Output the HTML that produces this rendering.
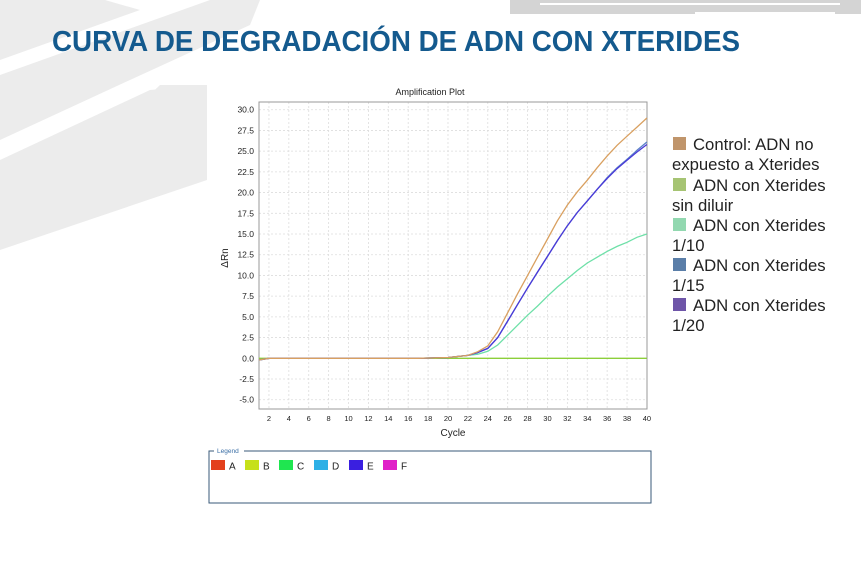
<!DOCTYPE html>
<html><head><meta charset="utf-8"><style>
body{margin:0;width:861px;height:557px;overflow:hidden;background:#fff;font-family:"Liberation Sans",sans-serif}
</style></head><body>
<svg id="s" width="861" height="557" xmlns="http://www.w3.org/2000/svg" font-family="Liberation Sans, sans-serif">
<polygon points="0,0 105,0 140,10 0,60" fill="#ececec"/>
<polygon points="0,75 210,0 260,0 250,25 130,80 0,140" fill="#ececec"/>
<polygon points="0,160 150,90 207,85 207,180 0,250" fill="#ececec"/>
<polygon points="160,85 207,85 207,100 60,180" fill="#ececec"/>
<rect x="510" y="0" width="351" height="14" fill="#d4d4d4"/>
<rect x="540" y="3" width="300" height="2" fill="#fff"/>
<rect x="695" y="12" width="140" height="3" fill="#fff"/>
<text x="52" y="51" font-size="29" font-weight="bold" fill="#145a8e" textLength="688" lengthAdjust="spacingAndGlyphs">CURVA DE DEGRADACIÓN DE ADN CON XTERIDES</text>
<rect x="207" y="85" width="453" height="440" fill="#fff"/>
<text x="430" y="95" font-size="9" text-anchor="middle" fill="#222">Amplification Plot</text>
<g id="grid"></g>
<rect x="259" y="102" width="388" height="307" fill="none" stroke="#999" stroke-width="1"/>
<g id="lab" font-size="8.5" fill="#222"></g>
<text x="228" y="258" font-size="10" fill="#222" transform="rotate(-90 228 258)" text-anchor="middle">ΔRn</text>
<text x="453" y="436" font-size="10" fill="#222" text-anchor="middle">Cycle</text>
<g id="cur" fill="none" stroke-width="1.3"></g>
<rect x="209" y="451" width="442" height="52" fill="none" stroke="#3a5a78" stroke-width="1"/>
<rect x="214" y="448" width="30" height="6" fill="#fff"/>
<text x="217" y="453" font-size="6.5" fill="#3a6ea5">Legend</text>
<g font-size="10" fill="#222">
<rect x="211" y="460" width="14" height="10" fill="#e3401c"/><text x="229" y="469.5">A</text>
<rect x="245" y="460" width="14" height="10" fill="#c6e01a"/><text x="263" y="469.5">B</text>
<rect x="279" y="460" width="14" height="10" fill="#1fe650"/><text x="297" y="469.5">C</text>
<rect x="314" y="460" width="14" height="10" fill="#2db0e6"/><text x="332" y="469.5">D</text>
<rect x="349" y="460" width="14" height="10" fill="#3a1fe0"/><text x="367" y="469.5">E</text>
<rect x="383" y="460" width="14" height="10" fill="#e020c8"/><text x="401" y="469.5">F</text>
</g>
<g font-size="16.7" fill="#222">
<rect x="673" y="137" width="13" height="13" fill="#c0956b"/><text x="693" y="150">Control: ADN no</text>
<text x="672" y="170">expuesto a Xterides</text>
<rect x="673" y="178" width="13" height="13" fill="#a6c473"/><text x="693" y="191">ADN con Xterides</text>
<text x="672" y="211">sin diluir</text>
<rect x="673" y="218" width="13" height="13" fill="#92d8b0"/><text x="693" y="231">ADN con Xterides</text>
<text x="672" y="251">1/10</text>
<rect x="673" y="258" width="13" height="13" fill="#5a7ea8"/><text x="693" y="271">ADN con Xterides</text>
<text x="672" y="291">1/15</text>
<rect x="673" y="298" width="13" height="13" fill="#6e55a8"/><text x="693" y="311">ADN con Xterides</text>
<text x="672" y="331">1/20</text>
</g>
</svg>
<script>
const NS="http://www.w3.org/2000/svg";
const X=c=>259+(c-1)*9.947, Y=v=>358.3-v*8.286;
function el(p,t,a,txt){const e=document.createElementNS(NS,t);for(const k in a)e.setAttribute(k,a[k]);if(txt!=null)e.textContent=txt;document.getElementById(p).appendChild(e);}
for(let c=2;c<=40;c+=2){el("grid","line",{x1:X(c),x2:X(c),y1:102,y2:409,stroke:"#ddd","stroke-dasharray":"2,2","stroke-width":0.8});
 el("lab","text",{x:X(c),y:421,"text-anchor":"middle","font-size":7.5},c);}
for(let v=-5;v<=30;v+=2.5){el("grid","line",{x1:259,x2:647,y1:Y(v),y2:Y(v),stroke:"#ddd","stroke-dasharray":"2,2","stroke-width":0.8});
 el("lab","text",{x:254,y:Y(v)+3,"text-anchor":"end"},v.toFixed(1));}
function path(pts,col){let d="";pts.forEach((p,i)=>{d+=(i?"L":"M")+X(p[0]).toFixed(1)+","+Y(p[1]).toFixed(1)});el("cur","path",{d:d,stroke:col});}
const base=[[1,-0.2],[2,0],[17,0],[20,0.1],[22,0.35]];
path([[1,0],[40,0]],"#8ccf3a");
path([...base,[23,0.5],[24,0.85],[25,1.6],[26,2.8],[27,4],[28,5.2],[29,6.3],[30,7.5],[31,8.6],[32,9.6],[33,10.6],[34,11.5],[35,12.2],[36,12.9],[37,13.5],[38,14],[39,14.6],[40,15]],"#6ee0a8");
path([...base,[23,0.7],[24,1.2],[25,2.5],[26,4.5],[27,6.5],[28,8.5],[29,10.4],[30,12.3],[31,14.2],[32,16],[33,17.6],[34,19],[35,20.4],[36,21.8],[37,23],[38,24],[39,25.1],[40,26.1]],"#5a80c8");
path([...base,[23,0.7],[24,1.2],[25,2.5],[26,4.5],[27,6.5],[28,8.5],[29,10.4],[30,12.3],[31,14.2],[32,16],[33,17.6],[34,19],[35,20.4],[36,21.7],[37,22.9],[38,23.9],[39,24.9],[40,25.8]],"#4a3ad8");
path([...base,[23,0.8],[24,1.5],[25,3.2],[26,5.5],[27,7.8],[28,10],[29,12.2],[30,14.4],[31,16.6],[32,18.5],[33,20.1],[34,21.5],[35,23],[36,24.4],[37,25.7],[38,26.8],[39,27.9],[40,29]],"#d9a060");
</script>
</body></html>
